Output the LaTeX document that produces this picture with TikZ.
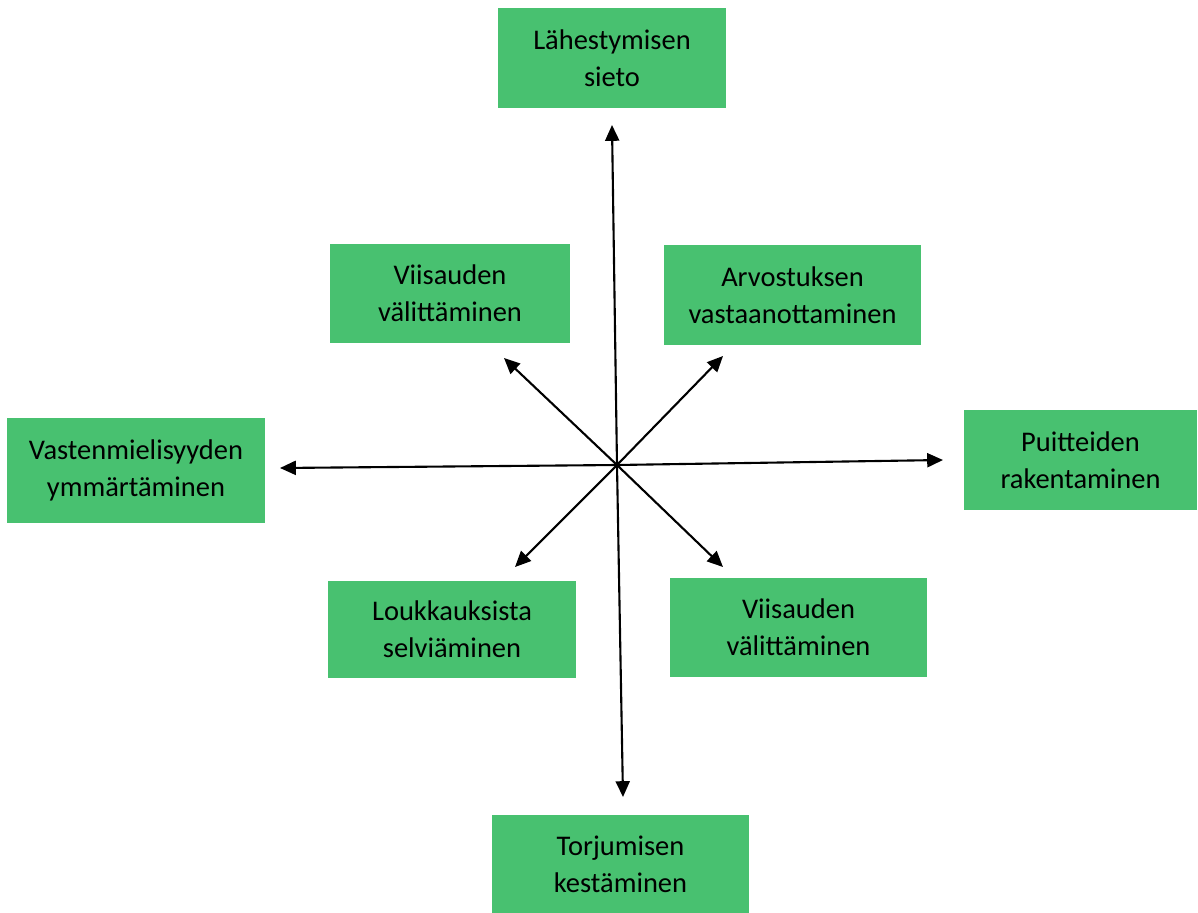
\documentclass[tikz,border=0pt]{standalone}
\usepackage{fontspec}
\setmainfont{Carlito}
\usepackage{tikz}
\usetikzlibrary{arrows.meta}
\definecolor{boxgreen}{RGB}{72,193,112}

\begin{document}
\begin{tikzpicture}[x=0.02cm, y=-0.02cm,
    box/.style={fill=boxgreen, rectangle, align=center, inner sep=0pt,
                font=\fontsize{16.2}{21}\selectfont},
    arr/.style={line width=1.2pt, -{Triangle[length=9pt, width=8pt]}}]
            \useasboundingbox (0,0) rectangle (1198,913);
            % Nodes
            \node[box, minimum width=4.56cm, minimum height=2cm] (top) at (612,58) {Lähestymisen\\sieto};
            \node[box, minimum width=4.8cm, minimum height=1.98cm] (wisdomA) at (450,293.5) {Viisauden\\välittäminen};
            \node[box, minimum width=5.14cm, minimum height=2cm] (apprec) at (792.5,295) {Arvostuksen\\vastaanottaminen};
            \node[box, minimum width=5.16cm, minimum height=2.1cm] (aversion) at (136,470.5) {Vastenmielisyyden\\ymmärtäminen};
            \node[box, minimum width=4.66cm, minimum height=2cm] (frame) at (1080.5,460) {Puitteiden\\rakentaminen};
            \node[box, minimum width=4.96cm, minimum height=1.94cm] (hurt) at (452,629.5) {Loukkauksista\\selviäminen};
            \node[box, minimum width=5.14cm, minimum height=1.98cm] (wisdomB) at (798.5,627.5) {Viisauden\\välittäminen};
            \node[box, minimum width=5.14cm, minimum height=1.96cm] (bottom) at (620.5,864) {Torjumisen\\kestäminen};
            % Arrow ends
            \coordinate (mid) at (617,465);
            \coordinate (tipT) at (612,125);
            \coordinate (tipB) at (623,797);
            \coordinate (tipL) at (280,468);
            \coordinate (tipR) at (943,460);
            \coordinate (tipUL) at (504,358);
            \coordinate (tipUR) at (723,356);
            \coordinate (tipLL) at (515,567);
            \coordinate (tipLR) at (723,567);
            % Arrows
            \draw[arr] (mid) -- (tipT);
            \draw[arr] (mid) -- (tipB);
            \draw[arr] (mid) -- (tipL);
            \draw[arr] (mid) -- (tipR);
            \draw[arr] (mid) -- (tipUL);
            \draw[arr] (mid) -- (tipUR);
            \draw[arr] (mid) -- (tipLL);
            \draw[arr] (mid) -- (tipLR);
        \end{tikzpicture}
\end{document}
